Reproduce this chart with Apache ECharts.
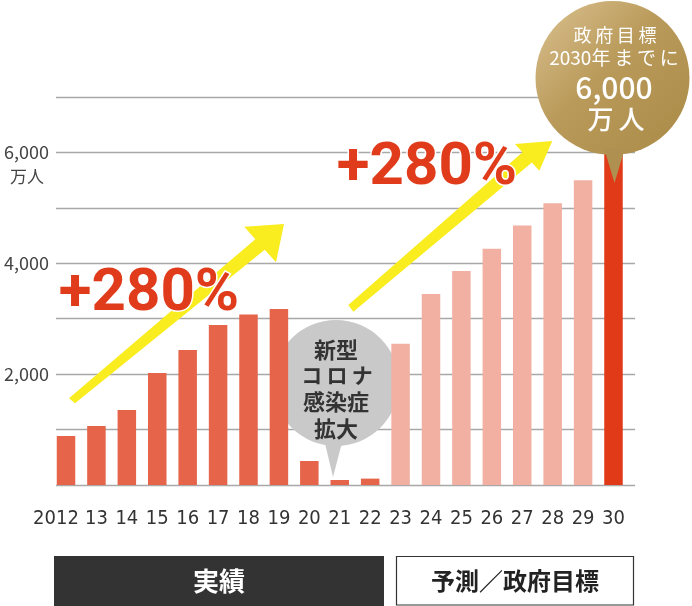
<!DOCTYPE html>
<html><head><meta charset="utf-8">
<script src="https://cdn.jsdelivr.net/npm/echarts@6/dist/echarts.min.js"></script>
<style>html,body{margin:0;padding:0;background:#fff}#c{width:692px;height:606px}</style>
</head><body><div id="c"></div>
<script>
const years = ['2012','13','14','15','16','17','18','19','20','21','22','23','24','25','26','27','28','29','30'];
const actualValues = [884,1065,1354,2022,2437,2888,3074,3177,433,90,115,'-','-','-','-','-','-','-','-'];
const forecastValues = ['-','-','-','-','-','-','-','-','-','-','-',2550,3448,3863,4260,4681,5085,5500,'-'];
const targetValues = ['-','-','-','-','-','-','-','-','-','-','-','-','-','-','-','-','-','-',6000];
const yTicks = [2000,4000,6000];

const chart = echarts.init(document.getElementById('c'), null, {renderer:'canvas'});
const jp = "'Noto Sans CJK JP','Noto Sans',sans-serif";
const axisFont = "'Liberation Sans Narrow','DejaVu Sans Condensed','Liberation Sans',sans-serif";
const ts = '\u2009';

const xData = years.map((y,i)=> i===0 ? {value:y, textStyle:{padding:[0,20,0,0]}} : y);

const option = {
  animation:false,
  grid:[
    {left:56,right:57,top:97,bottom:121,containLabel:false},
    {left:50.8,right:63.3,top:97,bottom:121,containLabel:false}
  ],
  xAxis:[
    {type:'value',gridIndex:0,show:false,min:0,max:1},
    {type:'category',gridIndex:1,data:xData,z:0,
     axisLine:{show:false},axisTick:{show:false},splitLine:{show:false},
     axisLabel:{interval:0,margin:24,fontSize:20,color:'#333',fontFamily:axisFont,hideOverlap:false}}
  ],
  yAxis:[
    {type:'value',gridIndex:0,min:0,max:7000,interval:1000,z:0,
     axisLine:{show:false},axisTick:{show:false},
     splitLine:{lineStyle:{color:'#a8a8a8',width:1.3}},
     axisLabel:{margin:7,fontSize:18,color:'#444',fontFamily:jp,
       formatter:v=> yTicks.includes(v) ? v.toLocaleString('en-US') : ''}},
    {type:'value',gridIndex:1,min:0,max:7000,interval:1000,show:false,splitLine:{show:false}}
  ],
  series:[
    {type:'bar',name:'実績',xAxisIndex:1,yAxisIndex:1,stack:'s',data:actualValues,barWidth:18.5,z:5,itemStyle:{color:'#e5644a'}},
    {type:'bar',name:'予測',xAxisIndex:1,yAxisIndex:1,stack:'s',data:forecastValues,barWidth:18.5,z:5,itemStyle:{color:'#f2b0a2'}},
    {type:'bar',name:'政府目標',xAxisIndex:1,yAxisIndex:1,stack:'s',data:targetValues,barWidth:18.5,z:5,itemStyle:{color:'#e03a18'}}
  ],
  graphic:[
    {type:'group',z:2,children:[
      {type:'circle',shape:{cx:336,cy:383,r:63},style:{fill:'#c9c9c9'},z:2},
      {type:'polygon',shape:{points:[[323,435],[344,435],[333,477]]},style:{fill:'#c9c9c9'},z:2},
      {type:'text',x:336,y:350,style:{text:'新型',fill:'#333',font:'bold 22px '+jp,align:'center',verticalAlign:'middle'},z:3},
      {type:'text',x:337,y:375,style:{text:'コ'+ts+'ロ'+ts+'ナ',fill:'#333',font:'bold 21px '+jp,align:'center',verticalAlign:'middle'},z:3},
      {type:'text',x:336,y:402,style:{text:'感染症',fill:'#333',font:'bold 22px '+jp,align:'center',verticalAlign:'middle'},z:3},
      {type:'text',x:336,y:429,style:{text:'拡大',fill:'#333',font:'bold 22px '+jp,align:'center',verticalAlign:'middle'},z:3}
    ]},
    {type:'polygon',z:10,shape:{points:[[69,398.3],[255.3,239.3],[244.3,226.7],[284,224],[276,262.3],[264.7,249.7],[75,403.3]]},style:{fill:'#f9ec1f'}},
    {type:'polygon',z:10,shape:{points:[[348.3,305],[522.5,152.2],[515,144],[552.3,141],[539.3,170.7],[531.9,162.6],[353.3,311.7]]},style:{fill:'#f9ec1f'}},
    {type:'text',z:11,x:149,y:295,style:{text:'+280%',fill:'#e03c1c',stroke:'#fff',lineWidth:3,font:'bold 60px Roboto,sans-serif',align:'center',verticalAlign:'middle'}},
    {type:'text',z:11,x:427,y:169,style:{text:'+280%',fill:'#e03c1c',stroke:'#fff',lineWidth:3,font:'bold 60px Roboto,sans-serif',align:'center',verticalAlign:'middle'}},
    {type:'group',z:12,children:[
      {type:'circle',shape:{cx:612.5,cy:78,r:77},style:{fill:new echarts.graphic.LinearGradient(0,0,1,1,[{offset:0,color:'#dcc291'},{offset:0.45,color:'#b99a5a'},{offset:1,color:'#a98a46'}])},z:12},
      {type:'polygon',shape:{points:[[604,148],[625,148],[614.5,183]]},style:{fill:'#b09050'},z:12},
      {type:'text',x:615,y:35,style:{text:['政','府','目','標'].join(ts),fill:'#fff',font:'18px '+jp,align:'center',verticalAlign:'middle'},z:13},
      {type:'text',x:614,y:58,style:{text:'2030'+['年','ま','で','に'].join(ts),fill:'#fff',font:'19px '+jp,align:'center',verticalAlign:'middle'},z:13},
      {type:'text',x:614,y:88,style:{text:'6,000',fill:'#fff',font:'500 30px '+jp,align:'center',verticalAlign:'middle'},z:13},
      {type:'text',x:616,y:119,style:{text:'万'+ts+'人',fill:'#fff',font:'500 26px '+jp,align:'center',verticalAlign:'middle'},z:13}
    ]},
    {type:'text',z:5,x:27,y:177,style:{text:'万人',fill:'#444',font:'17px '+jp,align:'center',verticalAlign:'middle'}},
    {type:'rect',z:5,shape:{x:54,y:556,width:330,height:50},style:{fill:'#333'}},
    {type:'text',z:6,x:219,y:581,style:{text:'実績',fill:'#fff',font:'bold 26px '+jp,align:'center',verticalAlign:'middle'}},
    {type:'rect',z:5,shape:{x:396.5,y:556.5,width:237,height:48.5},style:{fill:'#fff',stroke:'#333',lineWidth:1.2}},
    {type:'text',z:6,x:515,y:581,style:{text:'予測／政府目標',fill:'#222',font:'bold 24px '+jp,align:'center',verticalAlign:'middle'}}
  ]
};
chart.setOption(option);
</script></body></html>
